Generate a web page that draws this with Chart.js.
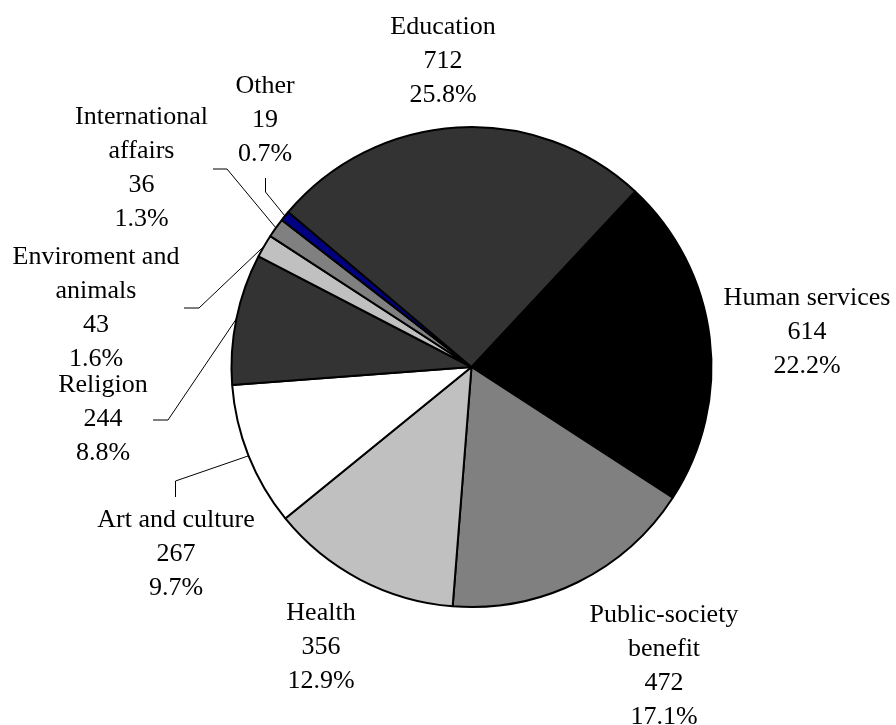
<!DOCTYPE html>
<html>
<head>
<meta charset="utf-8">
<script src="https://cdn.jsdelivr.net/npm/chart.js@4.4.1/dist/chart.umd.min.js"></script>
<style>
  html, body { margin: 0; padding: 0; background: #ffffff; }
  #wrap { width: 896px; height: 725px; }
</style>
</head>
<body>
<div id="wrap"><canvas id="c" width="896" height="725"></canvas></div>
<script>
// ---- data ----
const categories = [
  'Human services',
  'Public-society benefit',
  'Health',
  'Art and culture',
  'Religion',
  'Enviroment and animals',
  'International affairs',
  'Other',
  'Education'
];
const labelLines = [
  ['Human services'],
  ['Public-society', 'benefit'],
  ['Health'],
  ['Art and culture'],
  ['Religion'],
  ['Enviroment and', 'animals'],
  ['International', 'affairs'],
  ['Other'],
  ['Education']
];
const values = [614, 472, 356, 267, 244, 43, 36, 19, 712];

// ---- style ----
const colors = ['#000000', '#808080', '#c0c0c0', '#ffffff', '#333333', '#c0c0c0', '#808080', '#000080', '#333333'];
// label block anchor: center x and first-line center y (px on canvas)
const labelPos = [
  [807, 298], [664, 615], [321, 613], [176, 520], [103, 385],
  [96, 257], [141.5, 117], [265, 86], [443, 27]
];
// leader line elbow points (from label toward slice); null = no leader
const leaders = [
  null, null, null,
  [[175.5, 497], [175.5, 481]],
  [[153, 420], [168, 420]],
  [[184, 308], [199, 308]],
  [[213, 169], [227, 169]],
  [[265.5, 178], [265.5, 192]],
  null
];
const FONT = '26px "Liberation Serif", "Times New Roman", serif';
const LINE_H = 34;

const total = values.reduce((a, b) => a + b, 0);

const labelPlugin = {
  id: 'outLabels',
  afterDatasetsDraw(chart) {
    const ctx = chart.ctx;
    const meta = chart.getDatasetMeta(0);
    ctx.save();
    // leaders
    ctx.strokeStyle = '#000000';
    ctx.lineWidth = 1;
    meta.data.forEach((arc, i) => {
      if (!leaders[i]) return;
      const p = arc.getProps(['x', 'y', 'startAngle', 'endAngle', 'outerRadius'], true);
      const mid = (p.startAngle + p.endAngle) / 2;
      const ex = p.x + Math.cos(mid) * p.outerRadius;
      const ey = p.y + Math.sin(mid) * p.outerRadius;
      ctx.beginPath();
      ctx.moveTo(leaders[i][0][0], leaders[i][0][1]);
      for (let k = 1; k < leaders[i].length; k++) ctx.lineTo(leaders[i][k][0], leaders[i][k][1]);
      ctx.lineTo(ex, ey);
      ctx.stroke();
    });
    // text
    ctx.fillStyle = '#000000';
    ctx.font = FONT;
    ctx.textAlign = 'center';
    ctx.textBaseline = 'middle';
    values.forEach((v, i) => {
      const lines = labelLines[i].concat([String(v), (v / total * 100).toFixed(1) + '%']);
      const [x, y] = labelPos[i];
      lines.forEach((t, k) => ctx.fillText(t, x, y + k * LINE_H));
    });
    ctx.restore();
  }
};

new Chart(document.getElementById('c'), {
  type: 'pie',
  data: {
    labels: categories,
    datasets: [{
      data: values,
      backgroundColor: colors,
      borderColor: '#000000',
      borderWidth: 2,
      hoverBorderWidth: 2
    }]
  },
  options: {
    responsive: false,
    animation: false,
    rotation: 43,
    radius: 240,
    layout: { padding: { left: 47, right: 0, top: 9, bottom: 0 } },
    plugins: {
      legend: { display: false },
      tooltip: { enabled: false }
    }
  },
  plugins: [labelPlugin]
});
</script>
</body>
</html>
